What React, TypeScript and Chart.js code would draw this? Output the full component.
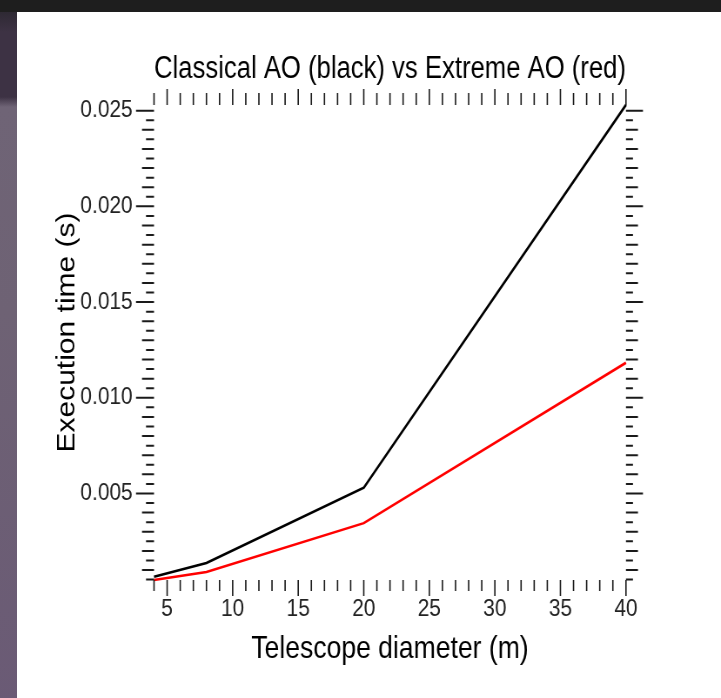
import React, { useEffect, useRef } from "react";
import { Chart, registerables } from "chart.js";

Chart.register(...registerables);

// ---- data ----
const diameters = [4, 8, 20, 40];
const classicalAO = [0.00065, 0.00137, 0.0053, 0.0253];
const extremeAO = [0.00048, 0.0009, 0.00345, 0.01183];

// ---- tick labels ----
const xTickLabels = [5, 10, 15, 20, 25, 30, 35, 40];
const yTickLabels = [0.005, 0.01, 0.015, 0.02, 0.025];
const xMinorStep = 1;
const xMajorStep = 5;
const yMinorStep = 0.0005;
const yMidStep = 0.001;
const yMajorStep = 0.005;
const yAxisHeadroom = 0.00104; // axis range above the plot frame

const titleText = "Classical AO (black) vs Extreme AO (red)";
const xTitle = "Telescope diameter (m)";
const yTitle = "Execution time (s)";

const FONT = "'Liberation Sans', Arial, sans-serif";

// the picture is horizontally condensed: draw wider, display narrower
const SQUEEZE = 0.87;
const CSS_W = 704;
const CSS_H = 686;
const CANVAS_W = Math.round(CSS_W / SQUEEZE);
const CANVAS_H = CSS_H;
const h = (v: number) => v / SQUEEZE; // horizontal css px -> canvas px

const frameYMin = Math.min(...classicalAO, ...extremeAO);
const frameYMax = Math.max(...classicalAO, ...extremeAO);

const isMult = (v: number, step: number) =>
  Math.abs(v / step - Math.round(v / step)) < 1e-6;

const tickMarks = {
  id: "tickMarks",
  afterDraw(chart: any) {
    const { ctx, chartArea: a } = chart;
    const x = chart.scales.x;
    const y = chart.scales.y;
    const top = y.getPixelForValue(frameYMax);
    const bottom = y.getPixelForValue(frameYMin);
    ctx.save();
    ctx.strokeStyle = "#1a1a1a";
    ctx.lineWidth = 1.6;
    ctx.beginPath();
    const xmin = x.min, xmax = x.max;
    const startX = Math.ceil(xmin / xMinorStep - 1e-9) * xMinorStep;
    for (let v = startX; v <= xmax + 1e-9; v += xMinorStep) {
      const px = x.getPixelForValue(v);
      const major = isMult(v, xMajorStep);
      ctx.moveTo(px, bottom);
      ctx.lineTo(px, bottom + (major ? 16 : 11));
      ctx.moveTo(px, top);
      ctx.lineTo(px, top - (major ? 16 : 12));
    }
    ctx.stroke();
    ctx.lineWidth = 2;
    ctx.beginPath();
    const startY = Math.ceil(frameYMin / yMinorStep - 1e-9) * yMinorStep;
    for (let k = 0; ; k++) {
      const v = startY + k * yMinorStep;
      if (v > frameYMax + 1e-12) break;
      const py = y.getPixelForValue(v);
      let lenL = 8, lenR = 7;
      if (isMult(v, yMajorStep)) { lenL = 18; lenR = 17; }
      else if (isMult(v, yMidStep)) { lenL = 12; lenR = 12; }
      ctx.moveTo(a.left, py);
      ctx.lineTo(a.left - h(lenL), py);
      ctx.moveTo(a.right, py);
      ctx.lineTo(a.right + h(lenR), py);
    }
    ctx.stroke();
    ctx.restore();
  },
};

export default function App() {
  const ref = useRef<HTMLCanvasElement | null>(null);

  useEffect(() => {
    document.body.style.margin = "0";
    const canvas = ref.current!;
    const pts = (ys: number[]) => diameters.map((d, i) => ({ x: d, y: ys[i] }));
    const chart = new Chart(canvas, {
      type: "line",
      data: {
        datasets: [
          {
            label: "Classical AO",
            data: pts(classicalAO),
            borderColor: "#000000",
            borderWidth: 2.6,
            pointRadius: 0,
            tension: 0,
            clip: false as any,
          },
          {
            label: "Extreme AO",
            data: pts(extremeAO),
            borderColor: "#ff0000",
            borderWidth: 2.6,
            pointRadius: 0,
            tension: 0,
            clip: false as any,
          },
        ],
      },
      options: {
        responsive: false,
        animation: false,
        devicePixelRatio: 1,
        layout: { padding: { left: 0, right: h(95), top: 0, bottom: 18 } },
        plugins: {
          legend: { display: false },
          tooltip: { enabled: false },
          title: { display: false },
        },
        scales: {
          x: {
            type: "linear",
            position: "bottom",
            min: Math.min(...diameters),
            max: Math.max(...diameters),
            afterBuildTicks: (s: any) => {
              s.ticks = xTickLabels.map((v) => ({ value: v }));
            },
            ticks: {
              autoSkip: false,
              maxRotation: 0,
              padding: 15,
              color: "#222222",
              font: { family: FONT, size: 24 },
              callback: (v: any) => String(v),
            },
            grid: { display: false, drawTicks: false },
            border: { display: false },
            title: {
              display: true,
              text: xTitle,
              color: "#000000",
              font: { family: FONT, size: 30.5 },
              padding: { top: 0, bottom: 12 },
            },
            afterFit: (s: any) => {
              s.height = 100;
            },
          },
          x2: {
            type: "linear",
            position: "top",
            min: Math.min(...diameters),
            max: Math.max(...diameters),
            ticks: { display: false },
            grid: { display: false, drawTicks: false },
            border: { display: false },
            title: {
              display: true,
              text: titleText,
              color: "#000000",
              font: { family: FONT, size: 31 },
              padding: { top: 39, bottom: 0 },
            },
            afterFit: (s: any) => {
              s.height = 73;
            },
          },
          y: {
            type: "linear",
            position: "left",
            min: frameYMin,
            max: frameYMax + yAxisHeadroom,
            afterBuildTicks: (s: any) => {
              s.ticks = yTickLabels.map((v) => ({ value: v }));
            },
            ticks: {
              autoSkip: false,
              padding: h(17) + 5,
              color: "#222222",
              font: { family: FONT, size: 24 },
              callback: (v: any) => Number(v).toFixed(3),
            },
            grid: { display: false, drawTicks: false },
            border: { display: false },
            title: {
              display: true,
              text: yTitle,
              color: "#000000",
              font: { family: FONT, size: 30 },
              padding: { top: h(50) - 18, bottom: 0 },
            },
            afterFit: (s: any) => {
              s.width = h(137);
            },
          },
        },
      },
      plugins: [tickMarks],
    });
    return () => chart.destroy();
  }, []);

  return (
    <div style={{ position: "fixed", inset: 0, background: "#1e1e1e", overflow: "hidden" }}>
      <div
        style={{
          position: "absolute",
          left: 0,
          top: 12,
          width: 17,
          bottom: 0,
          background:
            "linear-gradient(to bottom, #2e2933 0px, #3d3244 20px, #3d3244 85px, #6f6476 95px, #6e6274 300px, #6a5a75 698px)",
        }}
      />
      <canvas
        ref={ref}
        width={CANVAS_W}
        height={CANVAS_H}
        style={{
          position: "absolute",
          left: 17,
          top: 12,
          width: CSS_W,
          height: CSS_H,
          background: "#ffffff",
        }}
      />
    </div>
  );
}
